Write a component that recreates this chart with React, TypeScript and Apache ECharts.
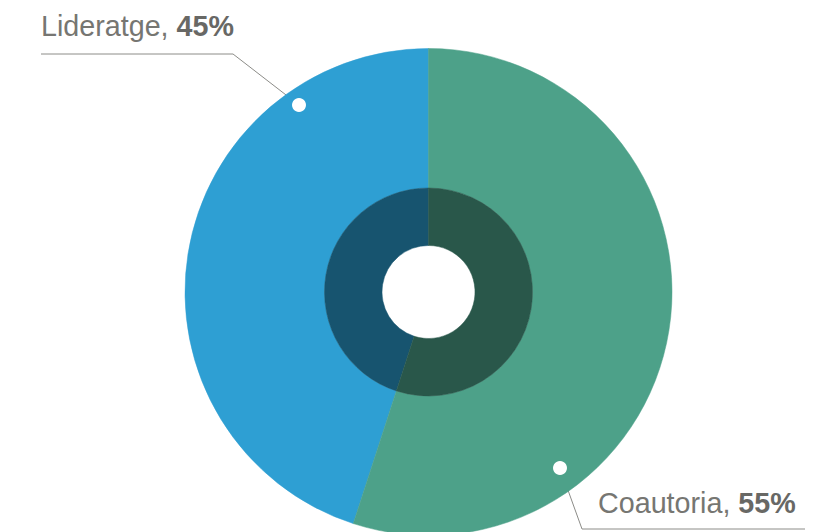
import React, { useEffect, useRef } from "react";
import * as echarts from "echarts";

const categories = ["Lideratge", "Coautoria"];
const values = [45, 55];
const outerColors = ["#2E9FD3", "#4DA189"];
const innerColors = ["#17546F", "#29574A"];

export default function App() {
  const ref = useRef<HTMLDivElement>(null);
  useEffect(() => {
    document.body.style.margin = "0";
    const chart = echarts.init(ref.current as HTMLDivElement, null, { renderer: "svg" });
    const anchors = [
      { x: 41, y: 26, line: [[299, 105], [233, 54], [41, 54]] },
      { x: 598, y: 503, line: [[560, 468], [582, 529], [805, 529]] },
    ];
    const center = [428.5, 292];
    chart.setOption({
      animation: false,
      backgroundColor: "#ffffff",
      textStyle: { fontFamily: "Liberation Sans, Arial, sans-serif" },
      graphic: anchors.map((a) => ({
        type: "circle",
        z: 100,
        silent: true,
        shape: { cx: a.line[0][0], cy: a.line[0][1], r: 7 },
        style: { fill: "#ffffff" },
      })),
      series: [
        {
          type: "pie",
          center,
          radius: [104, 243.5],
          startAngle: 90,
          clockwise: false,
          percentPrecision: 0,
          silent: true,
          z: 2,
          data: categories.map((name, i) => ({
            name,
            value: values[i],
            itemStyle: { color: outerColors[i], borderColor: outerColors[i], borderWidth: 0.5 },
          })),
          label: {
            show: true,
            position: "outside",
            overflow: "none",
            width: 400,
            formatter: "{n|{b}, }{p|{d}%}",
            rich: {
              n: { fontSize: 28.7, color: "#767672", fontFamily: "Liberation Sans, Arial, sans-serif" },
              p: { fontSize: 28.7, color: "#686865", fontWeight: "bold", fontFamily: "Liberation Sans, Arial, sans-serif" },
            },
          },
          labelLine: { show: true, lineStyle: { color: "#8c8c88", width: 1 } },
          labelLayout: (params: any) => {
            const a = anchors[params.dataIndex];
            return { x: a.x, y: a.y, align: "left", verticalAlign: "middle", labelLinePoints: a.line };
          },
        },
        {
          type: "pie",
          center,
          radius: [46.5, 104],
          startAngle: 90,
          clockwise: false,
          silent: true,
          z: 3,
          label: { show: false },
          labelLine: { show: false },
          data: categories.map((name, i) => ({
            name,
            value: values[i],
            itemStyle: { color: innerColors[i], borderColor: innerColors[i], borderWidth: 0.5 },
          })),
        },
      ],
    });
    return () => chart.dispose();
  }, []);
  return <div ref={ref} style={{ width: 833, height: 532 }} />;
}
